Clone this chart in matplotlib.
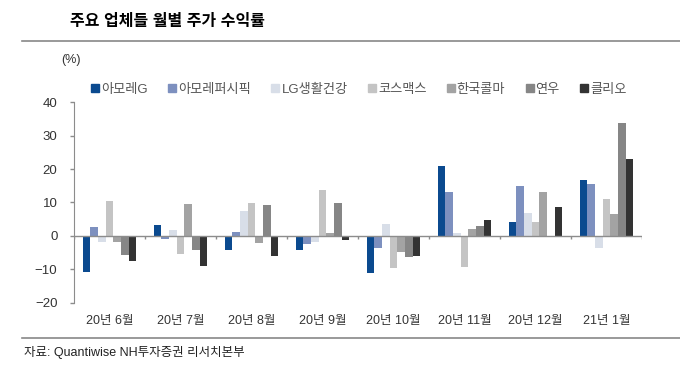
import numpy as np
import matplotlib.pyplot as plt
from matplotlib.lines import Line2D

plt.rcParams['font.family'] = ['Liberation Sans', 'Noto Sans CJK KR']

# --- data ---
months = ['20년 6월', '20년 7월', '20년 8월', '20년 9월',
          '20년 10월', '20년 11월', '20년 12월', '21년 1월']
companies = ['아모레G', '아모레퍼시픽', 'LG생활건강', '코스맥스', '한국콜마', '연우', '클리오']

amore_g = [-10.8, 3.3, -4.3, -4.2, -11.0, 20.8, 4.3, 16.7]
amore_pacific = [2.7, -0.9, 1.1, -2.5, -3.7, 13.1, 15.0, 15.4]
lg_hh = [-1.9, 1.7, 7.4, -1.8, 3.5, 0.8, 6.9, -3.6]
cosmax = [10.5, -5.3, 9.8, 13.7, -9.5, -9.4, 4.3, 11.0]
kolmar = [-1.8, 9.6, -2.1, 0.8, -4.7, 2.2, 13.0, 6.6]
yonwoo = [-5.8, -4.1, 9.3, 9.9, -6.3, 3.1, 0.0, 33.8]
clio = [-7.4, -8.9, -6.0, -1.3, -6.1, 4.8, 8.5, 22.9]

series = [amore_g, amore_pacific, lg_hh, cosmax, kolmar, yonwoo, clio]
colors = ['#0b4a8f', '#7d90bf', '#d8dee8', '#c4c4c4', '#a3a3a3', '#868686', '#333333']

fig = plt.figure(figsize=(6.8, 3.77), dpi=100)
ax = fig.add_axes([0.109, 0.197, 0.835, 0.532])

x = np.arange(len(months))
w = 0.108
for i, (vals, c) in enumerate(zip(series, colors)):
    ax.bar(x + (i - 3) * w, vals, width=w, color=c, label=companies[i], zorder=2)

ax.set_xlim(-0.5, len(months) - 0.5)
ax.set_ylim(-20, 40)
ax.set_yticks(range(-20, 41, 10))

axis_col = '#8c8c8c'
for s in ['top', 'right', 'bottom']:
    ax.spines[s].set_visible(False)
ax.spines['left'].set_color(axis_col)

# zero line with group separator ticks
ax.axhline(0, color=axis_col, lw=1, zorder=3)
ax.vlines(np.arange(len(months) + 1) - 0.5, -0.9, 0, color=axis_col, lw=1, zorder=3)

ax.set_xticks(x)
ax.set_xticklabels(months)
ax.tick_params(axis='x', length=0, pad=9, labelsize=9, labelcolor='#333333')
ax.tick_params(axis='y', length=3, width=1, color=axis_col, pad=9,
               labelsize=9.5, labelcolor='#333333')

# legend
handles = [Line2D([], [], marker='s', ls='', color=c, markersize=5.5) for c in colors]
fig.legend(handles, companies, loc='center', bbox_to_anchor=(0.527, 0.762), ncol=7,
           frameon=False, fontsize=9.5, handletextpad=0.05, columnspacing=1.45,
           handlelength=0.8, labelcolor='#555555')

fig.text(0.09, 0.84, '(%)', fontsize=9, color='#333333', ha='left', va='center')

# title and frame lines
fig.text(0.103, 0.942, '주요 업체들 월별 주가 수익률', fontsize=11.5, fontweight='bold',
         ha='left', va='center')
fig.add_artist(Line2D([0.033, 1.0], [0.891, 0.891], color='#888888', lw=1.2))
fig.add_artist(Line2D([0.033, 1.0], [0.104, 0.104], color='#888888', lw=1.2))
fig.text(0.036, 0.066, '자료: Quantiwise NH투자증권 리서치본부', fontsize=9,
         ha='left', va='center', color='#222222')

fig.savefig('out.png', dpi=100)
